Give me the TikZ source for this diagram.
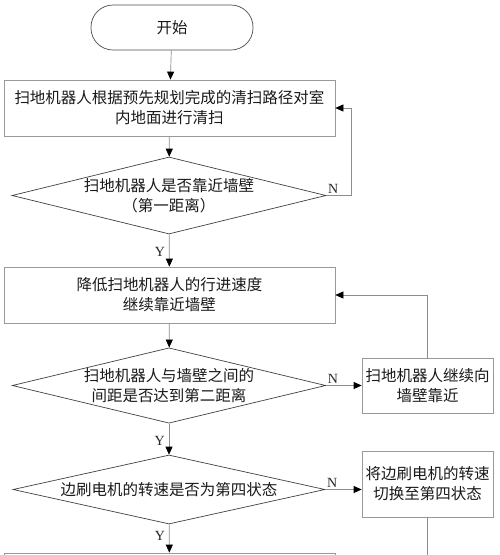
\documentclass[tikz,border=0pt]{standalone}
\usepackage{fontspec}
\setmainfont{Liberation Serif}
\newfontfamily\cjk{Noto Sans CJK SC}
\usepackage{tikz}
\usetikzlibrary{shapes.geometric,arrows.meta}

\tikzset{
    txt/.style={font=\cjk\fontsize{15.5}{20}\selectfont,text=black!90,align=center},
    term/.style={txt,draw=black!70,line width=0.7pt,rounded corners=22pt,minimum width=162pt,minimum height=45pt},
    box/.style={txt,draw=black!40,line width=0.7pt,minimum width=331pt,minimum height=56pt},
    sbox/.style={txt,draw=black!40,line width=0.7pt,minimum width=131pt},
    dia/.style={txt,diamond,draw=black!75,line width=0.7pt,inner sep=0pt,minimum width=314pt,minimum height=77pt,shape aspect=4.08},
    conn/.style={draw=black!45,line width=0.7pt},
    arr/.style={conn,-{Triangle[length=8pt,width=7pt,color=black]}},
    yes/.style={left,font=\fontsize{14}{14}\selectfont,text=black!85,inner sep=4pt,pos=0.55},
    no/.style={anchor=south west,font=\fontsize{14}{14}\selectfont,text=black!85,inner sep=1.5pt}
}

\begin{document}
\begin{tikzpicture}[x=1pt,y=1pt]
    \useasboundingbox (0,0) rectangle (500,-555);
    \clip (0,0) rectangle (500,-555);
    \node[term] (start) at (172,-27.5) {开始};
    \node[box] (clean) at (169.5,-108) {扫地机器人根据预先规划完成的清扫路径对室\\内地面进行清扫};
    \node[dia] (near) at (169,-195.5) {扫地机器人是否靠近墙壁\\（第一距离）};
    \node[box] (slow) at (169.5,-295) {降低扫地机器人的行进速度\\继续靠近墙壁};
    \node[dia,minimum width=312pt,minimum height=75pt,shape aspect=4.16] (gap) at (169,-385.5) {扫地机器人与墙壁之间的\\间距是否达到第二距离};
    \node[sbox,minimum height=55pt] (go) at (427.5,-385.5) {扫地机器人继续向\\墙壁靠近};
    \node[dia,minimum width=312pt,minimum height=69pt,shape aspect=4.52] (speed) at (169,-489.5) {边刷电机的转速是否为第四状态};
    \node[sbox,minimum height=66pt] (switch) at (427.5,-484) {将边刷电机的转速\\切换至第四状态};
    \node[box] (next) at (169.5,-581) {};
    \coordinate (out) at (427.5,-560);
    \draw[arr] (start) -- (clean);
    \draw[arr] (clean) -- (near);
    \draw[arr] (near.east) node[no] {N} -- ++(25,0) |- (clean.east);
    \draw[arr] (near) -- node[yes] {Y} (slow);
    \draw[arr] (slow) -- (gap);
    \draw[arr] (gap.east) node[no] {N} -- (go);
    \draw[arr] (go.north) |- (slow.east);
    \draw[arr] (gap) -- node[yes] {Y} (speed);
    \draw[arr] (speed.east) node[no] {N} -- (speed.east -| switch.west);
    \draw[conn] (switch) -- (out);
    \draw[arr] (speed) -- node[yes,pos=0.4] {Y} (next);
\end{tikzpicture}
\end{document}
